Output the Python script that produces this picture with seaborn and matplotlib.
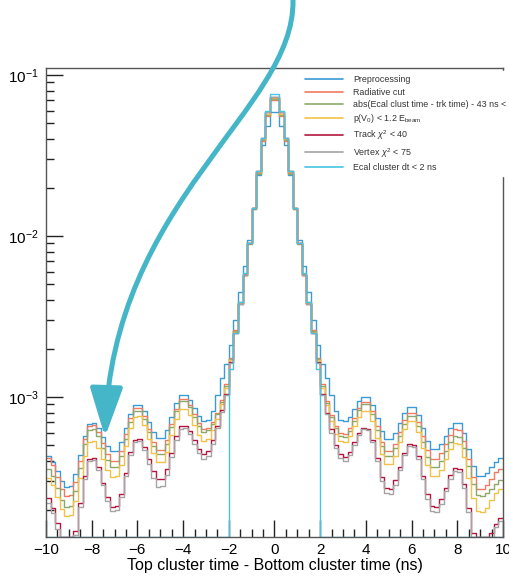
import numpy as np
import pandas as pd
import matplotlib
matplotlib.use("Agg")
import matplotlib.pyplot as plt
import seaborn as sns
from matplotlib.path import Path
from matplotlib.patches import FancyArrowPatch
from matplotlib.lines import Line2D
from matplotlib.ticker import MultipleLocator, LogLocator, NullFormatter

# ---------------- data (bin contents, in units of 1e-4) ----------------
bin_lo, bin_hi, n_bins = -10.0, 10.0, 100

labels = [
    "Preprocessing",
    "Radiative cut",
    "abs(Ecal clust time - trk time) - 43 ns <",
    r"p(V$_0$) < 1.2 E$_{\rm beam}$",
    r"Track $\chi^2$ < 40",
    r"Vertex $\chi^2$ < 75",
    "Ecal cluster dt < 2 ns",
]
colors = ["#3b9ad8", "#f07a62", "#8ca86a", "#f2c14a", "#b3163f", "#a4a4a4", "#43c6e2"]

preprocessing = [
    4.31, 3.96, 3.45, 3.00, 2.75, 2.79, 3.31, 4.36, 5.76, 6.83,
    6.92, 6.40, 5.64, 4.98, 4.60, 4.63, 5.25, 6.42, 7.86, 8.89,
    8.93, 8.16, 7.04, 6.08, 5.55, 5.57, 6.26, 7.56, 9.14, 10.27,
    10.3, 9.61, 8.55, 7.60, 7.06, 7.2, 8.2, 10.3, 13.2, 16,
    21, 30, 45, 65, 95, 150, 240, 370, 480, 590,
    590, 480, 370, 240, 150, 95, 65, 45, 30, 21,
    16, 13.2, 10.3, 8.2, 7.2, 7.06, 7.55, 8.42, 9.40, 10.05,
    9.99, 8.91, 7.41, 6.16, 5.49, 5.47, 5.98, 6.90, 7.96, 8.69,
    8.66, 7.72, 6.42, 5.34, 4.76, 4.73, 5.09, 5.72, 6.44, 6.92,
    6.86, 5.95, 4.72, 3.75, 3.25, 3.21, 3.37, 3.65, 3.95, 4.15,
]
radiative = [
    4.18, 3.77, 3.18, 2.69, 2.43, 2.46, 2.97, 4.03, 5.48, 6.62,
    6.71, 6.08, 5.18, 4.42, 4.00, 4.03, 4.64, 5.85, 7.37, 8.50,
    8.54, 7.61, 6.33, 5.26, 4.69, 4.71, 5.40, 6.75, 8.43, 9.67,
    9.75, 8.97, 7.84, 6.86, 6.31, 6.4, 7.0, 8.0, 9.6, 12.0,
    17.5, 26, 39, 58, 90, 148, 245, 390, 560, 700,
    700, 560, 390, 245, 148, 90, 58, 39, 26, 17.5,
    12.0, 9.4, 7.7, 6.6, 5.95, 5.88, 6.42, 7.41, 8.55, 9.33,
    9.27, 8.13, 6.56, 5.29, 4.64, 4.62, 5.12, 6.06, 7.17, 7.96,
    7.93, 7.00, 5.72, 4.68, 4.13, 4.11, 4.46, 5.11, 5.84, 6.35,
    6.28, 5.35, 4.12, 3.18, 2.70, 2.67, 2.82, 3.09, 3.40, 3.59,
]
timing = [
    3.57, 3.22, 2.72, 2.30, 2.07, 2.10, 2.59, 3.62, 5.07, 6.24,
    6.33, 5.71, 4.82, 4.08, 3.67, 3.70, 4.30, 5.49, 7.00, 8.13,
    8.17, 7.27, 6.02, 4.98, 4.43, 4.45, 5.13, 6.47, 8.15, 9.40,
    9.47, 8.70, 7.56, 6.59, 6.05, 6.2, 6.8, 7.8, 9.3, 11.7,
    17.3, 25.7, 38.6, 57.5, 89.5, 147, 244, 392, 565, 705,
    705, 565, 392, 244, 147, 89.5, 57.5, 38.6, 25.7, 17.3,
    11.7, 9.2, 7.5, 6.4, 5.7, 5.63, 6.17, 7.14, 8.28, 9.06,
    9.00, 7.83, 6.24, 4.97, 4.32, 4.30, 4.80, 5.72, 6.83, 7.61,
    7.59, 6.61, 5.29, 4.24, 3.69, 3.67, 3.99, 4.59, 5.27, 5.74,
    5.68, 4.84, 3.73, 2.87, 2.45, 2.41, 2.52, 2.70, 2.90, 3.03,
]
pv0 = [
    3.14, 2.83, 2.39, 2.02, 1.82, 1.85, 2.26, 3.12, 4.31, 5.26,
    5.33, 4.84, 4.12, 3.51, 3.18, 3.21, 3.78, 4.93, 6.42, 7.56,
    7.60, 6.71, 5.48, 4.48, 3.96, 3.97, 4.58, 5.77, 7.27, 8.38,
    8.44, 7.73, 6.70, 5.81, 5.32, 5.5, 6.2, 7.3, 9.0, 11.3,
    17, 25.5, 38.5, 57.5, 90, 149, 248, 398, 575, 715,
    715, 575, 398, 248, 149, 90, 57.5, 38.5, 25.5, 17,
    11.3, 8.9, 7.1, 5.9, 5.3, 5.24, 5.71, 6.56, 7.54, 8.21,
    8.14, 7.06, 5.60, 4.45, 3.85, 3.84, 4.32, 5.22, 6.30, 7.08,
    7.05, 6.09, 4.79, 3.77, 3.25, 3.23, 3.53, 4.09, 4.74, 5.19,
    5.12, 4.26, 3.16, 2.35, 1.95, 1.92, 2.05, 2.28, 2.53, 2.70,
]
track_chi2 = [
    2.35, 2.05, 1.64, 1.31, 1.14, 1.16, 1.47, 2.18, 3.22, 4.10,
    4.16, 3.65, 2.94, 2.38, 2.08, 2.10, 2.51, 3.37, 4.53, 5.43,
    5.48, 4.91, 4.12, 3.45, 3.10, 3.11, 3.59, 4.52, 5.70, 6.57,
    6.63, 6.13, 5.41, 4.77, 4.41, 4.6, 5.4, 6.6, 8.3, 10.5,
    16.5, 25, 38, 57, 90, 150, 252, 405, 585, 725,
    725, 585, 405, 252, 150, 90, 57, 38, 25, 16.5,
    10.5, 8.0, 6.3, 5.0, 4.4, 4.23, 4.58, 5.22, 5.94, 6.44,
    6.37, 5.41, 4.15, 3.18, 2.71, 2.69, 3.04, 3.70, 4.51, 5.09,
    5.06, 4.28, 3.25, 2.48, 2.09, 2.07, 2.31, 2.74, 3.26, 3.62,
    3.57, 2.88, 2.03, 1.43, 1.15, 1.13, 1.24, 1.42, 1.63, 1.78,
]
vertex_chi2 = [
    2.19, 1.91, 1.52, 1.22, 1.06, 1.08, 1.38, 2.07, 3.10, 3.98,
    4.04, 3.52, 2.82, 2.26, 1.97, 1.98, 2.39, 3.23, 4.37, 5.27,
    5.31, 4.69, 3.84, 3.13, 2.77, 2.78, 3.26, 4.21, 5.44, 6.37,
    6.44, 5.91, 5.14, 4.48, 4.11, 4.3, 5.1, 6.4, 8.1, 10.3,
    16.3, 24.8, 38, 57, 90, 150, 253, 407, 588, 728,
    728, 588, 407, 253, 150, 90, 57, 38, 24.8, 16.3,
    10.3, 7.8, 6.0, 4.8, 4.2, 4.00, 4.36, 5.03, 5.81, 6.34,
    6.27, 5.27, 3.98, 3.00, 2.52, 2.51, 2.85, 3.52, 4.34, 4.94,
    4.91, 4.12, 3.09, 2.33, 1.95, 1.93, 2.16, 2.59, 3.10, 3.47,
    3.42, 2.74, 1.92, 1.34, 1.08, 1.06, 1.16, 1.34, 1.55, 1.70,
]
ecal_dt = [
    0, 0, 0, 0, 0, 0, 0, 0, 0, 0,
    0, 0, 0, 0, 0, 0, 0, 0, 0, 0,
    0, 0, 0, 0, 0, 0, 0, 0, 0, 0,
    0, 0, 0, 0, 0, 0, 0, 0, 0, 0,
    15, 25, 39, 59, 91, 150, 252, 405, 600, 760,
    760, 600, 405, 252, 150, 91, 59, 39, 25, 15,
    0, 0, 0, 0, 0, 0, 0, 0, 0, 0,
    0, 0, 0, 0, 0, 0, 0, 0, 0, 0,
    0, 0, 0, 0, 0, 0, 0, 0, 0, 0,
    0, 0, 0, 0, 0, 0, 0, 0, 0, 0,
]
series = [preprocessing, radiative, timing, pv0, track_chi2, vertex_chi2, ecal_dt]
unit = 1e-4

xtick_major, xtick_minor = 2, 0.5
xlabel = "Top cluster time - Bottom cluster time (ns)"

# ---------------- figure ----------------
W, H = 510, 578
sns.set_theme(style="ticks")
plt.rcParams["font.family"] = ["Liberation Sans", "DejaVu Sans"]
plt.rcParams["mathtext.fontset"] = "custom"
plt.rcParams["mathtext.rm"] = "Liberation Sans"
plt.rcParams["mathtext.it"] = "Liberation Sans:italic"
plt.rcParams["mathtext.bf"] = "Liberation Sans:bold"

fig = plt.figure(figsize=(W / 100, H / 100), dpi=100)
ax = fig.add_axes([46 / W, 1 - 537 / H, (503 - 46) / W, (537 - 68) / H])

ymin, ymax = 1.35e-4, 0.1105
edges = np.linspace(bin_lo, bin_hi, n_bins + 1)

rows = []
for lab, vals in zip(labels, series):
    v = np.asarray(vals, float) * unit
    v = np.append(v, v[-1])
    v = np.maximum(v, ymin)  # ROOT-like: empty bins drawn on the frame floor
    rows.append(pd.DataFrame({"t": edges, "v": v, "series": lab}))
df = pd.concat(rows, ignore_index=True)

sns.lineplot(data=df, x="t", y="v", hue="series", hue_order=labels,
             palette=colors, drawstyle="steps-post", estimator=None,
             sort=False, linewidth=1.0, legend=False, ax=ax)

ax.set_yscale("log")
ax.set_xlim(bin_lo, bin_hi)
ax.set_ylim(ymin, ymax)
ax.xaxis.set_major_locator(MultipleLocator(xtick_major))
ax.xaxis.set_minor_locator(MultipleLocator(xtick_minor))
ax.yaxis.set_major_locator(LogLocator(base=10, numticks=10))
ax.yaxis.set_minor_locator(LogLocator(base=10, subs=np.arange(2, 10), numticks=20))
ax.yaxis.set_minor_formatter(NullFormatter())

ax.tick_params(which="both", direction="in", top=False, right=False,
               colors="#222222", width=1.0, labelsize=11, labelcolor="black")
ax.tick_params(which="major", length=12)
ax.tick_params(which="minor", length=6)
ax.tick_params(axis="x", pad=4)
ax.tick_params(axis="y", pad=5)

for s in ax.spines.values():
    s.set_color("#555555")
    s.set_linewidth(1.0)

ax.set_xlabel(xlabel, fontsize=11.5, labelpad=1, color="black")
ax.set_ylabel("")

handles = [Line2D([], [], color=c, lw=1.2) for c in colors]
leg = ax.legend(handles, labels, loc="upper right", bbox_to_anchor=(1.016, 0.993),
                borderaxespad=0, fontsize=6.4, frameon=True, fancybox=False,
                handlelength=4.3, handletextpad=1.1, labelspacing=0.38,
                borderpad=0.45)
leg.get_frame().set_facecolor("white")
leg.get_frame().set_edgecolor("white")
leg.get_frame().set_alpha(1.0)
for txt in leg.get_texts():
    txt.set_color("#333333")

# curved annotation arrow (figure pixel coordinates)
pts = [(293, 0), (295, 110), (112, 200), (105, 437)]
verts = [(x / W, 1 - y / H) for x, y in pts]
path = Path(verts, [Path.MOVETO, Path.CURVE4, Path.CURVE4, Path.CURVE4])
arrow = FancyArrowPatch(path=path, arrowstyle="-|>,head_length=1.5,head_width=0.5",
                        mutation_scale=20, color="#45b5c8", lw=3.6,
                        transform=fig.transFigure, zorder=20)
fig.add_artist(arrow)

fig.savefig("out.png", dpi=100)
